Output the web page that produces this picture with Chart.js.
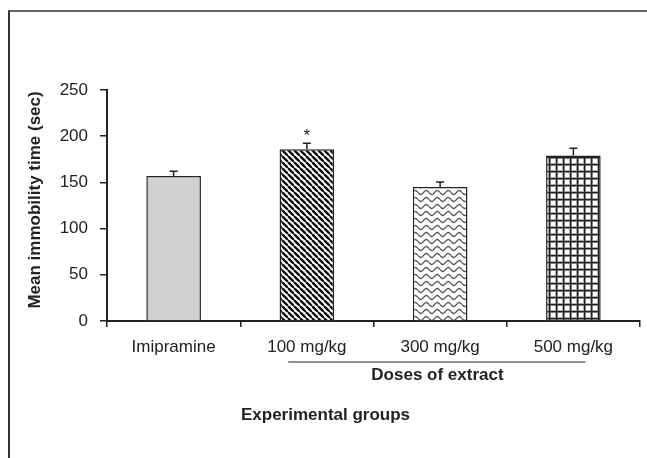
<!DOCTYPE html>
<html>
<head>
<meta charset="utf-8">
<script src="https://cdn.jsdelivr.net/npm/chart.js@4"></script>
<style>
  html, body { margin: 0; padding: 0; background: #fff; overflow: hidden; }
  #frame { position: absolute; left: 8px; top: 10px; width: 700px; height: 500px;
           border-top: 2px solid #666; border-left: 2px solid #333; }
  #wrap { position: absolute; left: 0; top: 0; width: 647px; height: 458px; }
</style>
</head>
<body>
<div id="frame"></div>
<div id="wrap"><canvas id="immobilityChart"></canvas></div>
<script>
const groups = ['Imipramine', '100 mg/kg', '300 mg/kg', '500 mg/kg'];
const meanTime = [157, 186, 145, 179];
const errTime = [5, 6.5, 5.5, 8];
const marks = ['', '*', '', ''];
const yTicks = [0, 50, 100, 150, 200, 250];

// Function to build the hatch fills for each bar
function makePattern(kind) {
    const c = document.createElement('canvas');
    const g = c.getContext('2d');
    if (kind === 'diag') {
        c.width = 6; c.height = 6;
        g.fillStyle = '#fff'; g.fillRect(0, 0, 6, 6);
        g.strokeStyle = '#111'; g.lineWidth = 2.4;
        [-6, 0, 6].forEach(o => {
            g.beginPath(); g.moveTo(o, 0); g.lineTo(o + 6, 6); g.stroke();
        });
    } else if (kind === 'wave') {
        c.width = 11; c.height = 7;
        g.fillStyle = '#fff'; g.fillRect(0, 0, 11, 7);
        g.strokeStyle = '#555'; g.lineWidth = 1.3;
        g.beginPath();
        for (let px = 0; px <= 11; px++) {
            const py = 3.5 + 2 * Math.sin(px / 11 * Math.PI * 2);
            if (px === 0) g.moveTo(px, py); else g.lineTo(px, py);
        }
        g.stroke();
    } else if (kind === 'grid') {
        c.width = 7; c.height = 7;
        g.fillStyle = '#fff'; g.fillRect(0, 0, 7, 7);
        g.fillStyle = '#aaa';
        g.fillRect(2, 0, 3, 7); g.fillRect(0, 2, 7, 3);
        g.fillStyle = '#222';
        g.fillRect(3, 0, 1.3, 7); g.fillRect(0, 3, 7, 1.3);
    } else {
        return '#d0d0d2';
    }
    return g.createPattern(c, 'repeat');
}

const extras = {
    id: 'extras',
    afterDatasetsDraw(chart) {
        const { ctx, scales: { x, y } } = chart;
        ctx.save();
        ctx.strokeStyle = '#222';
        ctx.lineWidth = 1.5;
        meanTime.forEach((v, i) => {
            const cx = x.getPixelForValue(i);
            const top = y.getPixelForValue(v);
            const cap = y.getPixelForValue(v + errTime[i]);
            ctx.beginPath();
            ctx.moveTo(cx, top); ctx.lineTo(cx, cap);
            ctx.moveTo(cx - 4, cap); ctx.lineTo(cx + 4, cap);
            ctx.stroke();
            if (marks[i]) {
                ctx.fillStyle = '#222';
                ctx.font = '17px "Liberation Sans", Arial, sans-serif';
                ctx.textAlign = 'center';
                ctx.textBaseline = 'top';
                ctx.fillText(marks[i], cx, cap - 15);
            }
        });
        // line under the extract doses
        const base = y.getPixelForValue(0);
        ctx.lineWidth = 1;
        ctx.beginPath();
        ctx.moveTo(x.getPixelForValue(0.86), base + 41);
        ctx.lineTo(x.getPixelForValue(3.09), base + 41);
        ctx.stroke();
        ctx.fillStyle = '#222';
        ctx.font = 'bold 17px "Liberation Sans", Arial, sans-serif';
        ctx.textAlign = 'center';
        ctx.textBaseline = 'middle';
        ctx.fillText('Doses of extract', x.getPixelForValue(1.98), base + 54);
        ctx.fillText('Experimental groups', x.getPixelForValue(1.14), base + 94);
        // y axis title, sitting a little above the plot middle
        ctx.translate(35, y.getPixelForValue(131));
        ctx.rotate(-Math.PI / 2);
        ctx.fillText('Mean immobility time (sec)', 0, 0);
        ctx.restore();
    }
};

Chart.defaults.font.family = '"Liberation Sans", Arial, sans-serif';
Chart.defaults.color = '#222';

const ctx = document.getElementById('immobilityChart').getContext('2d');
new Chart(ctx, {
    type: 'bar',
    data: {
        labels: groups,
        datasets: [{
            label: 'Mean immobility time',
            data: meanTime,
            backgroundColor: ['solid', 'diag', 'wave', 'grid'].map(makePattern),
            borderColor: '#222',
            borderWidth: 1.5,
            barPercentage: 0.41,
            categoryPercentage: 1
        }]
    },
    options: {
        responsive: true,
        maintainAspectRatio: false,
        animation: false,
        layout: { padding: { top: 90, right: 7, left: 0, bottom: 0 } },
        plugins: { legend: { display: false }, tooltip: { enabled: false } },
        scales: {
            x: {
                grid: { offset: true, drawOnChartArea: false, drawTicks: true, tickLength: 6, color: '#222', lineWidth: 1.5 },
                border: { display: true, color: '#222', width: 2 },
                ticks: { font: { size: 17 }, padding: 10, color: '#222' },
                afterFit: s => { s.height = 137; }
            },
            y: {
                min: 0,
                max: 250,
                afterBuildTicks: s => { s.ticks = yTicks.map(v => ({ value: v })); },
                grid: { drawOnChartArea: false, drawTicks: true, tickLength: 7, color: '#222', lineWidth: 1.5 },
                border: { display: true, color: '#222', width: 2 },
                ticks: { font: { size: 17 }, padding: 12, color: '#222' },
                afterFit: s => { s.width = 107; }
            }
        }
    },
    plugins: [extras]
});
</script>
</body>
</html>
